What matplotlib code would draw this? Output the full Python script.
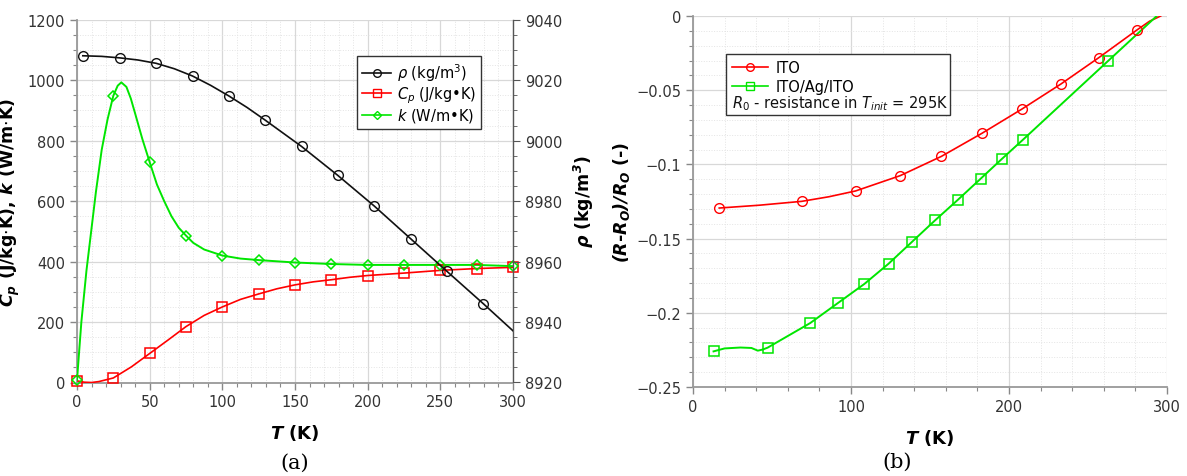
import numpy as np
import matplotlib
matplotlib.use('Agg')
import matplotlib.pyplot as plt
from matplotlib.ticker import MultipleLocator, FuncFormatter
from matplotlib.lines import Line2D
from matplotlib.patches import Rectangle

plt.rcParams['font.family'] = ['DejaVu Sans']
plt.rcParams['mathtext.fontset'] = 'custom'
plt.rcParams['mathtext.rm'] = 'DejaVu Sans'
plt.rcParams['mathtext.it'] = 'DejaVu Sans:italic'
plt.rcParams['mathtext.bf'] = 'DejaVu Sans:bold:italic'

# ---------------- panel (a) data ----------------
T_mark = [0, 25, 50, 75, 100, 125, 150, 175, 200, 225, 250, 275, 300]
cp_mark = [5.5, 15, 96, 185, 250, 293, 323, 340, 354, 362, 371, 377, 381]
k_mark = [8, 949, 729, 486, 420, 405, 397, 392, 389, 389, 389, 389, 385]

cp_curve_T = [0, 5, 10, 15, 25, 37.5, 50, 62.5, 75, 87.5, 100, 112.5, 125,
              137.5, 150, 162.5, 175, 187.5, 200, 225, 250, 275, 300]
cp_curve = [5.5, 1, 0, 3, 15, 52, 96, 140, 185, 222, 250, 275, 293,
            310, 323, 333, 340, 348, 354, 362, 371, 377, 381]

k_curve_T = [0, 3, 6.5, 10, 13, 17, 21, 25, 28, 30.5, 34, 37, 40, 45, 50,
             55, 60, 65, 70, 75, 80, 87.5, 100, 112.5, 125, 150, 175, 200,
             225, 250, 275, 300]
k_curve = [8, 200, 370, 510, 630, 770, 870, 949, 982, 993, 978, 940, 890,
           805, 729, 655, 600, 550, 512, 486, 462, 440, 420, 410, 405, 397,
           392, 389, 389, 389, 389, 385]

rho_T = [4, 29.5, 54.5, 79.5, 104.5, 129.5, 154.5, 179.5, 204.5, 229.5,
         254.5, 279.5]
rho_mark = [9028.1, 9027.4, 9025.6, 9021.4, 9014.8, 9006.8, 8998.1, 8988.5,
            8978.4, 8967.6, 8956.8, 8946.1]
rho_curve_T = [4, 17, 29.5, 42, 54.5, 67, 79.5, 92, 104.5, 117, 129.5, 154.5,
               179.5, 204.5, 229.5, 254.5, 279.5, 300]
rho_curve = [9028.1, 9027.9, 9027.4, 9026.7, 9025.6, 9023.8, 9021.4, 9018.3,
             9014.8, 9011.0, 9006.8, 8998.1, 8988.5, 8978.4, 8967.6, 8956.8,
             8946.1, 8937.1]

# ---------------- panel (b) data ----------------
ito_T = [16.6, 68.8, 102.9, 131.1, 157.2, 182.8, 208.2, 232.9, 256.8, 281.0]
ito = [-0.1294, -0.1249, -0.1179, -0.1076, -0.0946, -0.0791, -0.0627,
       -0.0458, -0.0281, -0.0094]
ito_curve_T = [16.6, 42, 68.8, 86, 102.9, 131.1, 157.2, 182.8, 208.2, 232.9,
               256.8, 281.0, 289, 296]
ito_curve = [-0.1294, -0.1275, -0.1249, -0.1218, -0.1179, -0.1076, -0.0946,
             -0.0791, -0.0627, -0.0458, -0.0281, -0.0094, -0.0035, 0.0]

iai_T = [13, 47.2, 74.2, 92, 108.4, 123.8, 138.7, 153.2, 167.7, 182.1,
         195.6, 208.9, 262.7]
iai = [-0.2260, -0.2235, -0.2069, -0.1932, -0.1806, -0.1669, -0.1521,
       -0.1377, -0.1238, -0.1096, -0.0962, -0.0833, -0.0303]
iai_curve_T = [13, 20, 30, 37, 41, 44, 47.2, 74.2, 92, 108.4, 123.8, 138.7,
               153.2, 167.7, 182.1, 195.6, 208.9, 262.7, 293.5]
iai_curve = [-0.2260, -0.2240, -0.2234, -0.2237, -0.2255, -0.2248, -0.2235,
             -0.2069, -0.1932, -0.1806, -0.1669, -0.1521, -0.1377, -0.1238,
             -0.1096, -0.0962, -0.0833, -0.0303, 0.0]

RED = '#ff0000'
GREEN = '#00e600'
BLACK = '#111111'
TICKC = '#888888'
LABC = '#333333'
TICKFS = 10.5

fig = plt.figure(figsize=(11.87, 4.77), dpi=100)

def style_axis(ax):
    ax.grid(True, which='major', color='#d8d8d8', lw=0.9, ls='-')
    ax.grid(True, which='minor', color='#e4e4e4', lw=0.7, ls=':')
    ax.set_axisbelow(True)
    ax.tick_params(which='both', direction='out', colors=TICKC,
                   labelcolor=LABC, labelsize=TICKFS)
    ax.tick_params(which='major', length=5, width=1)
    ax.tick_params(which='minor', length=3, width=0.8)
    ax.spines['top'].set_visible(False)
    for s in ('left', 'bottom'):
        ax.spines[s].set_color('#999999')
        ax.spines[s].set_linewidth(1.3)

# ---------------- panel (a) ----------------
ax = fig.add_axes([77 / 1187, (477 - 383.5) / 477, 436 / 1187, 362.7 / 477])
style_axis(ax)
ax.set_xlim(0, 300)
ax.set_ylim(0, 1200)
ax.xaxis.set_major_locator(MultipleLocator(50))
ax.xaxis.set_minor_locator(MultipleLocator(10))
ax.yaxis.set_major_locator(MultipleLocator(200))
ax.yaxis.set_minor_locator(MultipleLocator(50))
ax.spines['right'].set_visible(False)

ax.plot(cp_curve_T, cp_curve, color=RED, lw=1.2, zorder=3)
ax.plot(T_mark, cp_mark, ls='none', marker='s', ms=7, mfc='none', mec=RED,
        mew=1.1, zorder=4, clip_on=False)
ax.plot(k_curve_T, k_curve, color=GREEN, lw=1.4, zorder=3)
ax.plot(T_mark, k_mark, ls='none', marker='D', ms=5, mfc='none', mec=GREEN,
        mew=1.1, zorder=4, clip_on=False)

ax2 = ax.twinx()
ax2.set_ylim(8920, 9040)
ax2.yaxis.set_major_locator(MultipleLocator(20))
ax2.yaxis.set_minor_locator(MultipleLocator(5))
for s in ('left', 'top', 'bottom'):
    ax2.spines[s].set_visible(False)
ax2.spines['right'].set_color('#555555')
ax2.spines['right'].set_linewidth(1.0)
ax2.tick_params(which='both', direction='out', colors='#555555',
                labelcolor=LABC, labelsize=TICKFS)
ax2.tick_params(which='major', length=5)
ax2.tick_params(which='minor', length=3)
ax2.plot(rho_curve_T, rho_curve, color=BLACK, lw=1.2, zorder=3)
ax2.plot(rho_T, rho_mark, ls='none', marker='o', ms=7, mfc='none', mec=BLACK,
         mew=1.0, zorder=4)

ax.set_xlabel(r'$\mathbf{T}$ (K)', fontsize=13, fontweight='bold')
ax.xaxis.set_label_coords(0.5, -0.109)
ax.set_ylabel(r'$\mathbf{C_p}$ (J/kg$\cdot$K), $\mathbf{k}$ (W/m$\cdot$K)',
              fontsize=12.5, fontweight='bold')
ax.yaxis.set_label_coords(-0.126, 0.5)
ax2.set_ylabel(r'$\mathbf{\rho}$ (kg/m$^\mathbf{3}$)', fontsize=12.5,
               fontweight='bold')
ax2.yaxis.set_label_coords(1.135, 0.5)

handles_a = [
    Line2D([], [], color=BLACK, lw=1.2, marker='o', ms=5.5, mfc='none', mew=1.0),
    Line2D([], [], color=RED, lw=1.2, marker='s', ms=5.5, mfc='none', mew=1.0),
    Line2D([], [], color=GREEN, lw=1.2, marker='D', ms=4.5, mfc='none', mew=1.0),
]
labels_a = [r'$\rho$ (kg/m$^3$)', r'$C_p$ (J/kg•K)', r'$k$ (W/m•K)']
leg = ax2.legend(handles_a, labels_a, loc='upper right',
                 bbox_to_anchor=(0.927, 0.899), borderaxespad=0,
                 fancybox=False, framealpha=1, edgecolor='#333333',
                 fontsize=10.5, handlelength=2.0, handletextpad=0.4,
                 labelspacing=0.08, borderpad=0.35)
leg.get_frame().set_linewidth(1.0)

fig.text(295 / 1187, 1 - 463 / 477, '(a)', ha='center', va='center',
         fontsize=15, family='DejaVu Serif')

# ---------------- panel (b) ----------------
bx = fig.add_axes([693 / 1187, (477 - 388) / 477, 474 / 1187, 371 / 477])
style_axis(bx)
bx.spines['right'].set_visible(False)
bx.set_xlim(0, 300)
bx.set_ylim(-0.25, 0)
bx.xaxis.set_major_locator(MultipleLocator(100))
bx.xaxis.set_minor_locator(MultipleLocator(20))
bx.yaxis.set_major_locator(MultipleLocator(0.05))
bx.yaxis.set_minor_locator(MultipleLocator(0.01))
bx.yaxis.set_major_formatter(FuncFormatter(
    lambda v, p: ('%g' % round(v, 4)).replace('-', '\u2212')))

bx.plot(ito_curve_T, ito_curve, color=RED, lw=1.2, zorder=3)
bx.plot(ito_T, ito, ls='none', marker='o', ms=7, mfc='none', mec=RED,
        mew=1.0, zorder=4)
bx.plot(iai_curve_T, iai_curve, color=GREEN, lw=1.4, zorder=3)
bx.plot(iai_T, iai, ls='none', marker='s', ms=7, mfc='none', mec=GREEN,
        mew=1.1, zorder=4)

bx.set_xlabel(r'$\mathbf{T}$ (K)', fontsize=13, fontweight='bold')
bx.xaxis.set_label_coords(0.5, -0.108)
bx.set_ylabel(r'$\mathbf{(R}$-$\mathbf{R_O)/R_O}$ (-)', fontsize=12.5,
              fontweight='bold')
bx.yaxis.set_label_coords(-0.129, 0.5)

bx.add_patch(Rectangle((0.0696, 0.732), 0.543 - 0.0696, 0.897 - 0.732,
                       transform=bx.transAxes, facecolor='white',
                       edgecolor='#333333', lw=1.0, zorder=5))
handles_b = [
    Line2D([], [], color=RED, lw=1.2, marker='o', ms=5.5, mfc='none', mew=1.0),
    Line2D([], [], color=GREEN, lw=1.2, marker='s', ms=5.5, mfc='none', mew=1.0),
]
legb = bx.legend(handles_b, ['ITO', 'ITO/Ag/ITO'], loc='upper left',
                 bbox_to_anchor=(0.072, 0.893), borderaxespad=0,
                 frameon=False, fontsize=10.5, handlelength=2.5,
                 handletextpad=0.55, labelspacing=0.3, borderpad=0.3)
legb.set_zorder(6)
bx.text(0.083, 0.766, r'$R_0$ - resistance in $T_{init}$ = 295K',
        transform=bx.transAxes, fontsize=10.5, va='center', ha='left',
        color='#111111', zorder=7)

fig.text(897 / 1187, 1 - 462 / 477, '(b)', ha='center', va='center',
         fontsize=15, family='DejaVu Serif')

fig.savefig('out.png', dpi=100)
